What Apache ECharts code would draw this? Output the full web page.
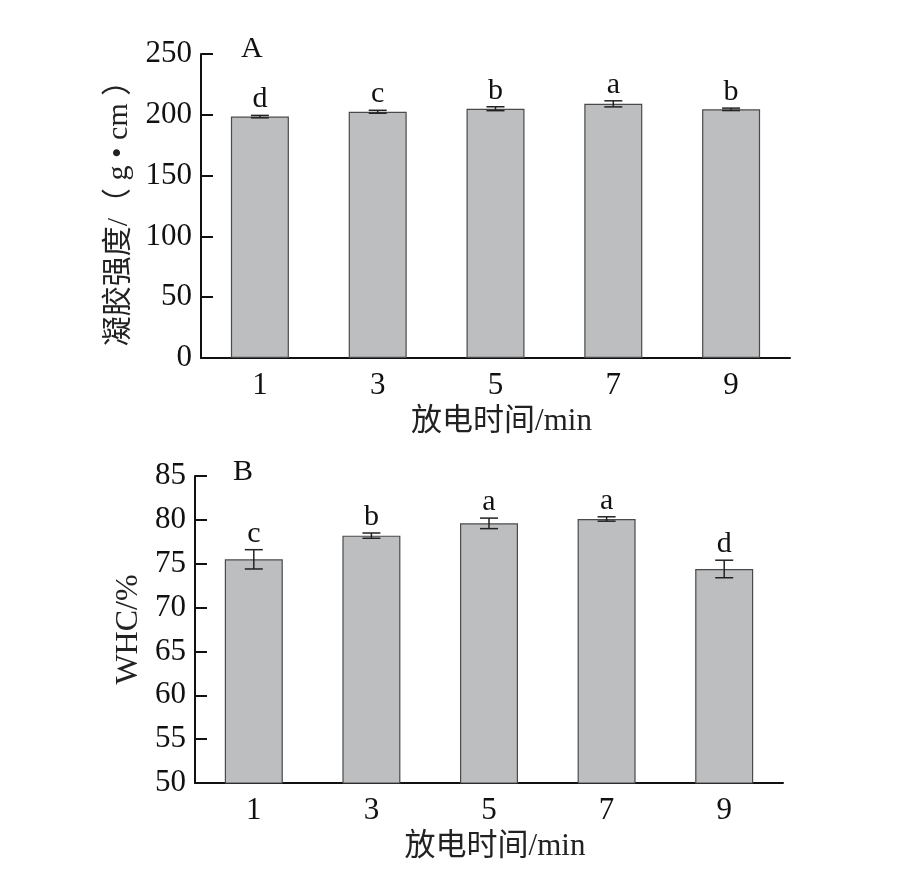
<!DOCTYPE html>
<html><head><meta charset="utf-8">
<script src="https://cdn.jsdelivr.net/npm/echarts@6/dist/echarts.min.js"></script>
<style>html,body{margin:0;padding:0;background:#fff}#c{width:919px;height:871px}</style>
</head><body><div id="c"></div>
<script>
var categories = ['1','3','5','7','9'];
var gelMean = [198.5, 202.5, 205, 209, 204.5];
var gelErr = [1, 1.2, 1.6, 2.5, 1];
var gelLetters = ['d','c','b','a','b'];
var whcMean = [75.5, 78.2, 79.6, 80.1, 74.4];
var whcErr = [1.1, 0.3, 0.6, 0.25, 1.0];
var whcLetters = ['c','b','a','a','d'];
var gelTicks = {min:0, max:250, interval:50};
var whcTicks = {min:50, max:85, interval:5};

var FONT = '"Liberation Serif","Times New Roman","Noto Sans CJK SC",serif';
var chart = echarts.init(document.getElementById('c'), null, {renderer:'canvas'});

function errSeries(idx, mean, err, letters){
  return {
    type:'custom', xAxisIndex:idx, yAxisIndex:idx, z:5,
    data: mean.map(function(m,i){return [i, m, err[i]];}),
    renderItem:function(params, api){
      var i = api.value(0), m = api.value(1), e = api.value(2);
      var top = api.coord([i, m+e]), bot = api.coord([i, m-e]);
      var hw = 9;
      var st = {stroke:'#222', lineWidth:1.5};
      return {type:'group', children:[
        {type:'line', shape:{x1:top[0],y1:top[1],x2:bot[0],y2:bot[1]}, style:st},
        {type:'line', shape:{x1:top[0]-hw,y1:top[1],x2:top[0]+hw,y2:top[1]}, style:st},
        {type:'line', shape:{x1:bot[0]-hw,y1:bot[1],x2:bot[0]+hw,y2:bot[1]}, style:st},
        {type:'text', style:{text:letters[params.dataIndex], x:top[0], y:top[1]-1,
          textAlign:'center', textVerticalAlign:'bottom', font:'30px '+FONT, fill:'#111'}}
      ]};
    }
  };
}

function xAx(idx){
  return {type:'category', gridIndex:idx, data:categories,
    name:'放电时间/min', nameLocation:'middle', nameGap:48,
    nameTextStyle:{fontFamily:FONT, fontSize:31, color:'#222', padding:[0,0,0,12]},
    axisLine:{lineStyle:{color:'#111', width:2}},
    axisTick:{inside:true, length:11, lineStyle:{color:'#111', width:2}},
    axisLabel:{fontFamily:FONT, fontSize:31, color:'#111', margin:12},
    splitLine:{show:false}};
}
function yAx(idx, t, name, gap, nfs){
  return {type:'value', gridIndex:idx, min:t.min, max:t.max, interval:t.interval,
    name:name, nameLocation:'middle', nameGap:gap,
    nameTextStyle:{fontFamily:FONT, fontSize:nfs, color:'#222'},
    axisLine:{show:true, lineStyle:{color:'#111', width:2}},
    axisTick:{show:true, inside:true, length:12, lineStyle:{color:'#111', width:2}},
    axisLabel:{fontFamily:FONT, fontSize:31, color:'#111', margin:9},
    splitLine:{show:false}};
}

var barStyle = {color:'#bdbec0', borderColor:'#4a4a4a', borderWidth:1.2};

chart.setOption({
  animation:false,
  backgroundColor:'#fff',
  grid:[
    {left:201, right:129, top:54, height:304},
    {left:195, right:136, top:476, height:307}
  ],
  xAxis:[xAx(0), xAx(1)],
  yAxis:[yAx(0, gelTicks, '凝胶强度/（ g • cm ）', 62, 30), yAx(1, whcTicks, 'WHC/%', 48, 32)],
  graphic:[
    {type:'text', left:241, top:34, style:{text:'A', font:'30px '+FONT, fill:'#111'}},
    {type:'text', left:233, top:457, style:{text:'B', font:'30px '+FONT, fill:'#111'}}
  ],
  series:[
    {type:'bar', xAxisIndex:0, yAxisIndex:0, data:gelMean, barWidth:58, itemStyle:barStyle},
    {type:'bar', xAxisIndex:1, yAxisIndex:1, data:whcMean, barWidth:58, itemStyle:barStyle},
    errSeries(0, gelMean, gelErr, gelLetters),
    errSeries(1, whcMean, whcErr, whcLetters)
  ]
});
</script></body></html>
